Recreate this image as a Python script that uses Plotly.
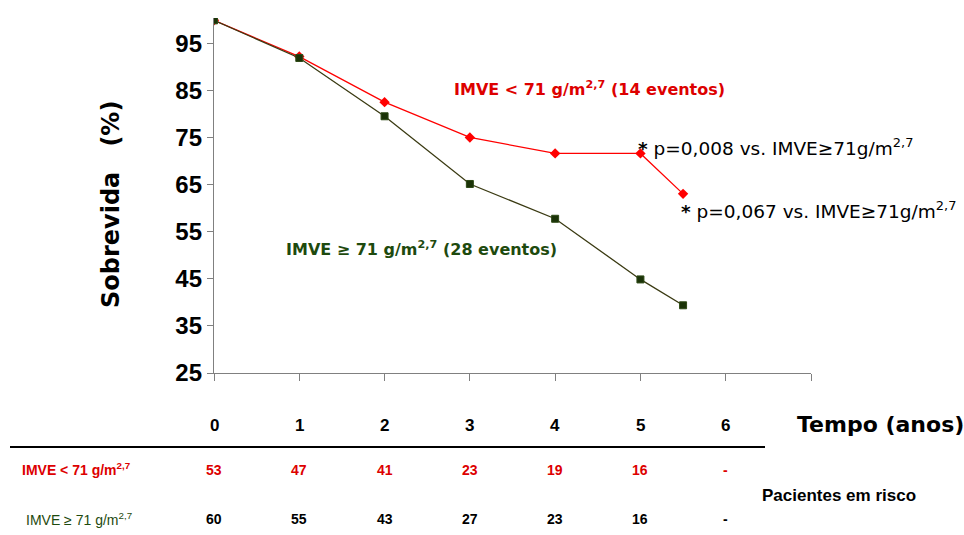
import plotly.graph_objects as go

years = [0, 1, 2, 3, 4, 5, 5.5]
surv_low = [100, 92.3, 82.6, 75.1, 71.7, 71.7, 63.1]     # IMVE < 71
surv_high = [100, 92.0, 79.6, 65.2, 57.8, 44.9, 39.4]    # IMVE >= 71
y_ticks = [25, 35, 45, 55, 65, 75, 85, 95]
time_labels = [0, 1, 2, 3, 4, 5, 6]
risk_low = ["53", "47", "41", "23", "19", "16", "-"]
risk_high = ["60", "55", "43", "27", "23", "16", "-"]

RED = "#FF0000"
DKRED = "#DD0000"
GREEN = "#1E4A0E"
LINEG = "#3A3A12"

W, H = 964, 535
L, R, T, B = 214, 153, 18, 162
pw, ph = W - L - R, H - T - B

def px(x):
    return (x - L) / pw

def py(y):
    return (H - B - y) / ph

fig = go.Figure()
fig.add_trace(go.Scatter(x=years, y=surv_low, mode="lines+markers",
                         line=dict(color=RED, width=1.3),
                         marker=dict(symbol="diamond", size=8, color=RED),
                         showlegend=False))
fig.add_trace(go.Scatter(x=years, y=surv_high, mode="lines+markers",
                         line=dict(color=LINEG, width=1.3),
                         marker=dict(symbol="square", size=7, color="#1B3308",
                                     line=dict(color="#2E4A16", width=1)),
                         showlegend=False))

NARROW = "Liberation Sans Narrow, Liberation Sans"
ann = []

def add(x, y, text, size, color, family="DejaVu Sans", xanchor="left", xref="paper", angle=0):
    ann.append(dict(x=x, y=y, xref=xref, yref="paper", xanchor=xanchor, yanchor="middle",
                    text=text, showarrow=False, textangle=angle,
                    font=dict(family=family, size=size, color=color)))

# y-axis title
add(px(111), py(205), "<b>Sobrevida   (%)</b>", 24, "black", xanchor="center", angle=-90)
# group labels
add(px(452), py(89), "<b>IMVE &lt; 71 g/m<sup>2,7</sup> (14 eventos)</b>", 16, DKRED)
add(px(284), py(248), "<b>IMVE ≥ 71 g/m<sup>2,7</sup> (28 eventos)</b>", 16, GREEN)
add(px(636), py(147), "<b>*</b> p=0,008 vs. IMVE≥71g/m<sup>2,7</sup>", 18.5, "black")
add(px(679), py(210), "<b>*</b> p=0,067 vs. IMVE≥71g/m<sup>2,7</sup>", 18.5, "black")
# time labels
for t in time_labels:
    add(t, py(425), f"<b>{t}</b>", 17, "black", family=NARROW, xanchor="center", xref="x")
add(px(795), py(424), "<b>Tempo (anos)</b>", 22, "black")
# risk table
for i, t in enumerate(time_labels):
    add(t, py(470), f"<b>{risk_low[i]}</b>", 14, DKRED, family=NARROW, xanchor="center", xref="x")
    add(t, py(519), f"<b>{risk_high[i]}</b>", 14, "black", family=NARROW, xanchor="center", xref="x")
add(px(20), py(469), "<b>IMVE &lt; 71 g/m<sup>2,7</sup></b>", 14, DKRED, family=NARROW)
add(px(24), py(519), "IMVE ≥ 71 g/m<sup>2,7</sup>", 14, GREEN, family=NARROW)
add(px(760), py(495), "<b>Pacientes em risco</b>", 17, "black", family=NARROW)

fig.add_shape(type="line", xref="paper", yref="paper",
              x0=px(10), x1=px(765), y0=py(447), y1=py(447),
              line=dict(color="black", width=2))

fig.update_layout(
    width=W, height=H, margin=dict(l=L, r=R, t=T, b=B),
    paper_bgcolor="white", plot_bgcolor="white",
    annotations=ann,
    xaxis=dict(range=[0, 7], tickvals=list(range(8)), showticklabels=False,
               ticks="outside", ticklen=7, tickcolor="#808080", tickwidth=1.3,
               showline=True, linecolor="#808080", linewidth=1.3,
               showgrid=False, zeroline=False, fixedrange=True),
    yaxis=dict(range=[25, 100.5], tickvals=y_ticks, ticks="outside", ticklen=6,
               tickcolor="#808080", tickwidth=1.3,
               showline=True, linecolor="#808080", linewidth=1.3,
               showgrid=False, zeroline=False,
               tickfont=dict(family="Liberation Sans", size=24, color="black", weight="bold")),
)
fig.write_html("out.html")
